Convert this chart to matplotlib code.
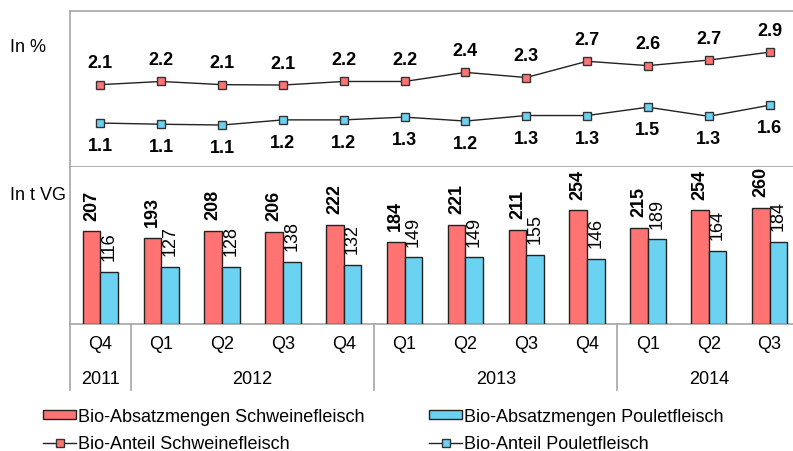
import matplotlib
matplotlib.use("Agg")
import matplotlib.pyplot as plt
from matplotlib.patches import Patch
from matplotlib.lines import Line2D

quarters = ["Q4", "Q1", "Q2", "Q3", "Q4", "Q1", "Q2", "Q3", "Q4", "Q1", "Q2", "Q3"]
years = ["2011", "2012", "2013", "2014"]
year_counts = [1, 4, 4, 3]

vol_pork = [207, 193, 208, 206, 222, 184, 221, 211, 254, 215, 254, 260]
vol_poultry = [116, 127, 128, 138, 132, 149, 149, 155, 146, 189, 164, 184]
pct_pork = [2.08, 2.16, 2.08, 2.07, 2.16, 2.16, 2.39, 2.26, 2.67, 2.56, 2.70, 2.90]
pct_poultry = [1.11, 1.08, 1.06, 1.19, 1.19, 1.26, 1.16, 1.30, 1.30, 1.51, 1.28, 1.56]

RED = "#FF7373"
BLUE = "#6CD2F2"
GRID = "#A6A6A6"

FONT = "Liberation Sans"
plt.rcParams["font.family"] = [FONT, "DejaVu Sans"]
FS = 13

W, H = 793, 452
fig = plt.figure(figsize=(W / 100, H / 100), dpi=100)

def rect(l, t, r, b):
    return [l / W, (H - b) / H, (r - l) / W, (b - t) / H]

ax1 = fig.add_axes(rect(70, 12, 800, 168))
ax2 = fig.add_axes(rect(70, 168, 800, 325))

n = len(quarters)
x = list(range(n))

# top panel: lines
ax1.plot(x, pct_pork, color="#222222", lw=1, marker="s", ms=6.3,
         mfc=RED, mec="#333333", mew=1, zorder=3)
ax1.plot(x, pct_poultry, color="#222222", lw=1, marker="s", ms=6.3,
         mfc=BLUE, mec="#333333", mew=1, zorder=3)
for i in x:
    ax1.annotate(f"{pct_pork[i]:.1f}", (i, pct_pork[i]), xytext=(0, 15.6),
                 textcoords="offset points", ha="center", va="center",
                 fontsize=FS, fontweight="bold")
    ax1.annotate(f"{pct_poultry[i]:.1f}", (i, pct_poultry[i]), xytext=(0, -16.3),
                 textcoords="offset points", ha="center", va="center",
                 fontsize=FS, fontweight="bold")
ax1.set_xlim(-0.5, n - 0.5)
ax1.set_ylim(0, 3.94)
ax1.set_xticks([])
ax1.set_yticks([])
ax1.spines["right"].set_visible(False)
for s in ["top", "left", "bottom"]:
    ax1.spines[s].set_color(GRID)
    ax1.spines[s].set_linewidth(1.2)

# bottom panel: bars
bw = 0.29
ax2.bar([i - bw / 2 for i in x], vol_pork, width=bw, color=RED,
        edgecolor="#222222", linewidth=1, zorder=3)
ax2.bar([i + bw / 2 for i in x], vol_poultry, width=bw, color=BLUE,
        edgecolor="#222222", linewidth=1, zorder=3)
for i in x:
    ax2.annotate(str(vol_pork[i]), (i - bw / 2, vol_pork[i]), xytext=(0, 8.5),
                 textcoords="offset points", ha="center", va="bottom",
                 rotation=90, fontsize=FS, fontweight="bold")
    ax2.annotate(str(vol_poultry[i]), (i + bw / 2, vol_poultry[i]), xytext=(0, 8.5),
                 textcoords="offset points", ha="center", va="bottom",
                 rotation=90, fontsize=FS)
ax2.set_xlim(-0.5, n - 0.5)
ax2.set_ylim(0, 351)
ax2.set_xticks([])
ax2.set_yticks([])
for s in ["right", "top"]:
    ax2.spines[s].set_visible(False)
for s in ["left", "bottom"]:
    ax2.spines[s].set_color(GRID)
    ax2.spines[s].set_linewidth(1.2)

# category axis
ph = 325 - 168
tr = ax2.get_xaxis_transform()
for i, q in enumerate(quarters):
    ax2.text(i, -(345 - 325) / ph, q, transform=tr, ha="center", va="center",
             fontsize=FS)
start = 0
bounds = [-0.5]
for yr, c in zip(years, year_counts):
    ax2.text(start + (c - 1) / 2, -(380 - 325) / ph, yr, transform=tr,
             ha="center", va="center", fontsize=FS)
    start += c
    bounds.append(start - 0.5)
for b in bounds[:-1]:
    ax2.plot([b, b], [0, -(391 - 325) / ph], transform=tr, color=GRID,
             lw=1.2, clip_on=False)

fig.text(10 / W, 1 - 48 / H, "In %", ha="left", va="center", fontsize=FS)
fig.text(10 / W, 1 - 196 / H, "In t VG", ha="left", va="center", fontsize=FS)

handles = [
    Patch(facecolor=RED, edgecolor="#222222", linewidth=1),
    Line2D([], [], color="#222222", lw=1, marker="s", ms=5.5, mfc=RED, mec="#333333"),
    Patch(facecolor=BLUE, edgecolor="#222222", linewidth=1),
    Line2D([], [], color="#222222", lw=1, marker="s", ms=5.5, mfc=BLUE, mec="#333333"),
]
labels = ["Bio-Absatzmengen Schweinefleisch", "Bio-Anteil Schweinefleisch",
          "Bio-Absatzmengen Pouletfleisch", "Bio-Anteil Pouletfleisch"]
fig.legend(handles, labels, ncol=2, loc="upper left",
           bbox_to_anchor=(43 / W, 1 - 409 / H), frameon=False,
           prop={"size": FS},
           handlelength=1.85, handleheight=0.35, handletextpad=0.1,
           columnspacing=3.55, labelspacing=0.55, borderaxespad=0, borderpad=0)

fig.savefig("out.png", dpi=100)
